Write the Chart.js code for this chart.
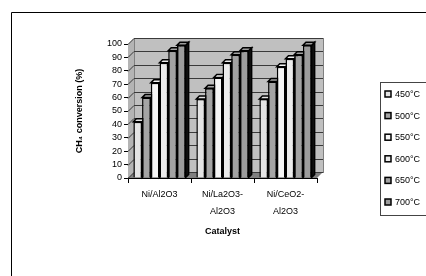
<!DOCTYPE html>
<html>
<head>
<meta charset="utf-8">
<script src="https://cdn.jsdelivr.net/npm/chart.js@4/dist/chart.umd.min.js"></script>
<style>
  body { margin: 0; background: #fff; }
  canvas { display: block; }
</style>
</head>
<body>
<canvas id="myChart" width="426" height="276"></canvas>
<script>
// data
const catalysts = [['Ni/Al2O3'], ['Ni/La2O3-', 'Al2O3'], ['Ni/CeO2-', 'Al2O3']]
const temps = ['450°C', '500°C', '550°C', '600°C', '650°C', '700°C']
const t450 = [42, 59, 59]
const t500 = [60, 67, 72]
const t550 = [71, 75, 83]
const t600 = [86, 86, 89]
const t650 = [95, 92, 92]
const t700 = [99, 95, 99]
const yTicks = [0, 10, 20, 30, 40, 50, 60, 70, 80, 90, 100]

const series = [t450, t500, t550, t600, t650, t700]
const fills = ['#e4e4e4', '#a4a4a4', '#f6f6f6', '#ececec', '#a2a2a2', '#9c9c9c']

const depth = 6   // back wall offset
const barDepth = 3

const walls = {
  id: 'walls',
  beforeDatasetsDraw(chart) {
    const c = chart.ctx
    const a = chart.chartArea
    const y = chart.scales.y
    c.save()
    // left side wall
    c.fillStyle = '#b4b4b4'
    c.beginPath()
    c.moveTo(a.left, a.top); c.lineTo(a.left + depth, a.top - depth)
    c.lineTo(a.left + depth, a.bottom - depth); c.lineTo(a.left, a.bottom)
    c.closePath(); c.fill()
    // back wall
    c.fillStyle = '#c0c0c0'
    c.fillRect(a.left + depth, a.top - depth, a.right - a.left, a.bottom - a.top)
    c.strokeStyle = '#808080'
    c.lineWidth = 1
    c.strokeRect(a.left + depth + 0.5, a.top - depth + 0.5, a.right - a.left, a.bottom - a.top)
    // floor
    c.fillStyle = '#808080'
    c.beginPath()
    c.moveTo(a.left, a.bottom); c.lineTo(a.left + depth, a.bottom - depth)
    c.lineTo(a.right + depth, a.bottom - depth); c.lineTo(a.right, a.bottom)
    c.closePath(); c.fill()
    // gridlines on wall
    c.strokeStyle = '#3a3a3a'
    c.lineWidth = 1
    yTicks.forEach(v => {
      const py = Math.round(y.getPixelForValue(v)) + 0.5
      c.beginPath()
      c.moveTo(a.left, py)
      c.lineTo(a.left + depth, py - depth)
      c.lineTo(a.right + depth, py - depth)
      c.stroke()
    })
    // bar tops and sides (fronts drawn by chart.js on top)
    chart.data.datasets.forEach((ds, i) => {
      chart.getDatasetMeta(i).data.forEach(bar => {
        const l = bar.x - bar.width / 2
        const r = bar.x + bar.width / 2
        c.lineWidth = 1.5
        c.strokeStyle = '#000'
        c.fillStyle = '#111'
        c.beginPath()
        c.moveTo(r, bar.y); c.lineTo(r + barDepth, bar.y - barDepth)
        c.lineTo(r + barDepth, bar.base - barDepth); c.lineTo(r, bar.base)
        c.closePath(); c.fill(); c.stroke()
        c.fillStyle = ds.backgroundColor
        c.beginPath()
        c.moveTo(l, bar.y); c.lineTo(l + barDepth, bar.y - barDepth)
        c.lineTo(r + barDepth, bar.y - barDepth); c.lineTo(r, bar.y)
        c.closePath(); c.fill(); c.stroke()
      })
    })
    c.restore()
  },
  afterDraw(chart) {
    const c = chart.ctx
    c.save()
    // outer frame
    c.strokeStyle = '#000'
    c.lineWidth = 1
    c.beginPath()
    c.moveTo(11.5, 276); c.lineTo(11.5, 12.5); c.lineTo(426, 12.5)
    c.stroke()
    // legend box
    c.strokeStyle = '#444'
    c.strokeRect(380.5, 82.5, 60, 133)
    c.font = '9px "Liberation Sans", Arial, sans-serif'
    c.textBaseline = 'middle'
    chart.data.datasets.forEach((ds, i) => {
      const ly = 94 + i * 21.6
      c.fillStyle = ds.backgroundColor
      c.fillRect(385, ly - 3, 6, 6)
      c.lineWidth = 1.5
      c.strokeStyle = '#000'
      c.strokeRect(385, ly - 3, 6, 6)
      c.fillStyle = '#000'
      c.fillText(ds.label, 395, ly + 0.5)
    })
    c.restore()
  }
}

const ctx = document.getElementById('myChart')
// eslint-disable-next-line no-unused-vars
const myChart = new Chart(ctx, {
  type: 'bar',
  data: {
    labels: catalysts,
    datasets: series.map((s, i) => ({
      label: temps[i],
      data: s,
      backgroundColor: fills[i],
      borderColor: '#000',
      borderWidth: 1.5,
      categoryPercentage: 0.83,
      barPercentage: 1.0
    }))
  },
  plugins: [walls],
  options: {
    responsive: false,
    animation: false,
    layout: { padding: { left: 70, right: 109, top: 44, bottom: 38 } },
    plugins: {
      legend: { display: false },
      tooltip: { enabled: false }
    },
    scales: {
      x: {
        offset: true,
        grid: { offset: true, drawOnChartArea: false, tickLength: 5, color: '#000' },
        border: { color: '#000', width: 1 },
        ticks: {
          color: '#000', padding: 3, maxRotation: 0,
          font: { family: '"Liberation Sans", Arial, sans-serif', size: 9, lineHeight: 1.9 }
        },
        title: {
          display: true, text: 'Catalyst', color: '#000',
          font: { family: '"Liberation Sans", Arial, sans-serif', size: 9, weight: 'bold' },
          padding: { top: 0, bottom: 1 }
        },
        afterFit(scale) { scale.height = 60 }
      },
      y: {
        min: 0,
        max: 100,
        grid: { drawOnChartArea: false, tickLength: 4, color: '#000' },
        border: { color: '#000', width: 1 },
        ticks: {
          stepSize: 10, autoSkip: false, color: '#000', padding: 2,
          font: { family: '"Liberation Sans", Arial, sans-serif', size: 9 }
        },
        title: {
          display: true, text: 'CH₄ conversion (%)', color: '#000',
          font: { family: '"Liberation Sans", Arial, sans-serif', size: 9, weight: 'bold' },
          padding: { top: 4, bottom: 0 }
        },
        afterFit(scale) { scale.width = 58 }
      }
    }
  }
})
</script>
</body>
</html>
